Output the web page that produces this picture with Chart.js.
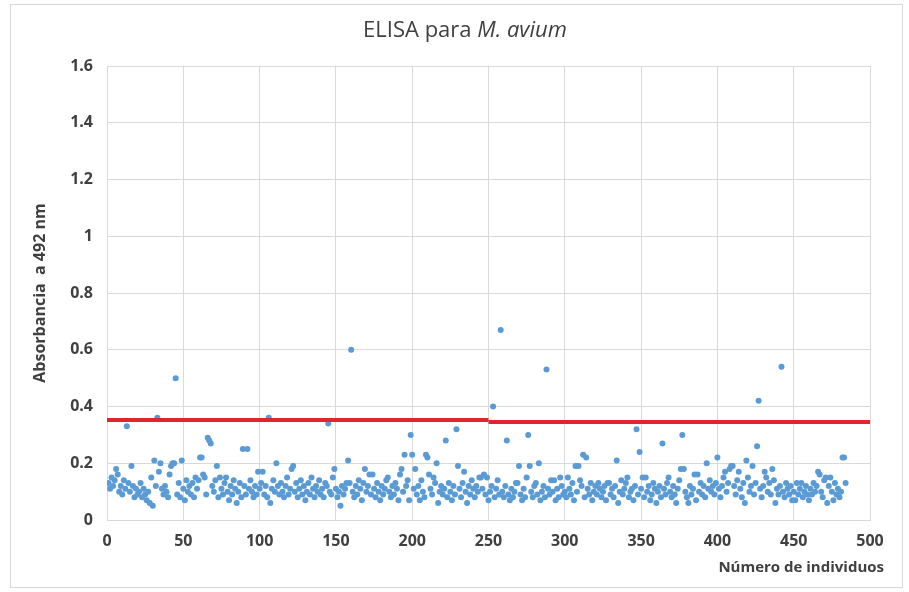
<!DOCTYPE html>
<html><head><meta charset="utf-8">
<script src="https://cdn.jsdelivr.net/npm/chart.js@4"></script>
<style>
html,body{margin:0;padding:0;background:#fff;}
#wrap{position:relative;width:909px;height:592px;overflow:hidden;}
#frame{position:absolute;left:10px;top:4px;width:893px;height:584px;border:1px solid #d9d9d9;box-sizing:border-box;}
canvas{position:absolute;left:0;top:0;}
</style></head><body>
<div id="wrap"><div id="frame"></div><canvas id="c" width="909" height="592"></canvas></div>
<script>
const titleMain = "ELISA para ";
const titleItalic = "M. avium";
const yTitle = "Absorbancia  a 492 nm";
const xTitle = "Número de individuos";

// Absorbance of individuals 1..484
const absorbance = [
0.13,0.11,0.15,0.12,0.14,0.18,0.16,0.10,0.12,0.09,0.14,0.11,0.33,0.13,0.10,0.19,0.12,0.08,0.11,0.09,
0.10,0.13,0.08,0.11,0.09,0.07,0.10,0.06,0.15,0.05,0.21,0.12,0.36,0.17,0.20,0.11,0.09,0.12,0.10,0.08,
0.16,0.19,0.20,0.20,0.50,0.09,0.13,0.08,0.21,0.11,0.07,0.14,0.10,0.12,0.09,0.13,0.08,0.15,0.11,0.14,
0.22,0.22,0.16,0.15,0.09,0.29,0.28,0.27,0.12,0.10,0.14,0.19,0.08,0.15,0.11,0.09,0.13,0.15,0.10,0.07,
0.12,0.09,0.14,0.11,0.06,0.10,0.13,0.08,0.25,0.12,0.09,0.25,0.11,0.14,0.10,0.08,0.12,0.09,0.17,0.11,
0.13,0.17,0.09,0.12,0.08,0.36,0.06,0.11,0.14,0.10,0.20,0.12,0.09,0.13,0.10,0.08,0.12,0.15,0.09,0.11,
0.18,0.19,0.10,0.13,0.08,0.11,0.14,0.09,0.12,0.07,0.10,0.13,0.09,0.15,0.11,0.08,0.12,0.10,0.14,0.09,
0.11,0.08,0.13,0.12,0.34,0.10,0.09,0.15,0.18,0.11,0.08,0.10,0.05,0.12,0.09,0.11,0.13,0.21,0.13,0.60,
0.10,0.08,0.12,0.09,0.14,0.11,0.07,0.13,0.18,0.10,0.12,0.16,0.09,0.16,0.11,0.08,0.13,0.10,0.07,0.12,
0.09,0.11,0.14,0.15,0.10,0.08,0.12,0.09,0.13,0.11,0.07,0.16,0.18,0.10,0.23,0.12,0.14,0.07,0.30,0.23,
0.11,0.18,0.09,0.12,0.07,0.14,0.10,0.08,0.23,0.22,0.16,0.11,0.09,0.15,0.13,0.20,0.06,0.10,0.12,0.09,
0.11,0.28,0.08,0.13,0.10,0.07,0.12,0.09,0.32,0.19,0.11,0.08,0.13,0.17,0.10,0.06,0.12,0.09,0.14,0.11,
0.08,0.12,0.10,0.15,0.15,0.11,0.16,0.09,0.15,0.07,0.10,0.12,0.40,0.08,0.11,0.14,0.09,0.67,0.10,0.08,
0.12,0.28,0.09,0.07,0.11,0.08,0.10,0.13,0.13,0.19,0.09,0.07,0.11,0.08,0.15,0.30,0.19,0.10,0.08,0.12,
0.13,0.09,0.20,0.07,0.10,0.12,0.08,0.53,0.11,0.09,0.14,0.10,0.14,0.07,0.11,0.08,0.15,0.12,0.09,0.10,
0.08,0.15,0.11,0.09,0.13,0.07,0.19,0.10,0.19,0.14,0.12,0.23,0.08,0.22,0.11,0.09,0.13,0.07,0.10,0.12,
0.09,0.13,0.11,0.08,0.10,0.12,0.07,0.13,0.13,0.09,0.11,0.08,0.12,0.21,0.06,0.10,0.14,0.09,0.11,0.13,
0.15,0.08,0.10,0.11,0.07,0.12,0.32,0.09,0.24,0.11,0.15,0.08,0.15,0.10,0.12,0.07,0.09,0.13,0.11,0.06,
0.10,0.12,0.08,0.27,0.11,0.09,0.13,0.15,0.10,0.08,0.12,0.09,0.06,0.11,0.14,0.18,0.30,0.18,0.10,0.08,
0.06,0.12,0.09,0.11,0.16,0.07,0.16,0.10,0.13,0.09,0.12,0.08,0.20,0.11,0.14,0.10,0.12,0.09,0.13,0.22,
0.11,0.08,0.12,0.15,0.17,0.10,0.13,0.18,0.19,0.19,0.12,0.09,0.14,0.17,0.11,0.08,0.13,0.06,0.21,0.15,
0.10,0.12,0.19,0.09,0.13,0.26,0.42,0.11,0.08,0.12,0.17,0.15,0.10,0.13,0.09,0.18,0.14,0.06,0.11,0.09,
0.12,0.54,0.10,0.08,0.13,0.11,0.09,0.12,0.07,0.10,0.07,0.13,0.09,0.11,0.13,0.08,0.10,0.12,0.09,0.07,
0.11,0.09,0.13,0.10,0.12,0.17,0.16,0.10,0.08,0.14,0.15,0.06,0.12,0.15,0.10,0.07,0.13,0.09,0.11,0.08,
0.10,0.22,0.22,0.13
];

// Cut-off lines (two plates)
const cutoffX1 = [0, 250];
const cutoffY1 = [0.352, 0.352];
const cutoffX2 = [250, 500];
const cutoffY2 = [0.345, 0.345];

const xMin = 0, xMax = 500, xStep = 50;
const yMin = 0, yMax = 1.6, yStep = 0.2;

const textColor = '#404040';
const gridColor = '#d9d9d9';
const FONT = '"Open Sans", "Liberation Sans", sans-serif';

const overlayText = {
  id: 'overlayText',
  afterDraw(chart) {
    const ctx = chart.ctx;
    ctx.save();
    ctx.fillStyle = textColor;
    ctx.textBaseline = 'middle';
    const f1 = '22px ' + FONT, f2 = 'italic 22px ' + FONT;
    ctx.font = f1; const w1 = ctx.measureText(titleMain).width;
    ctx.font = f2; const w2 = ctx.measureText(titleItalic).width;
    let x = 465 - (w1 + w2) / 2;
    ctx.textAlign = 'left';
    ctx.font = f1; ctx.fillText(titleMain, x, 31);
    ctx.font = f2; ctx.fillText(titleItalic, x + w1, 31);
    ctx.font = 'bold 15px ' + FONT;
    ctx.textAlign = 'right';
    ctx.fillText(xTitle, 884, 568);
    ctx.restore();
  }
};

new Chart(document.getElementById('c'), {
  type: 'scatter',
  data: {
    datasets: [
      { type: 'line', data: cutoffX1.map((x, i) => ({x, y: cutoffY1[i]})), borderColor: '#e0262c', borderWidth: 4, pointRadius: 0, fill: false },
      { type: 'line', data: cutoffX2.map((x, i) => ({x, y: cutoffY2[i]})), borderColor: '#e0262c', borderWidth: 4, pointRadius: 0, fill: false },
      { data: absorbance.map((v, i) => ({x: i + 1, y: v})), backgroundColor: '#5b9bd5', borderColor: '#5b9bd5', borderWidth: 0, pointRadius: 3 }
    ]
  },
  options: {
    responsive: false,
    animation: false,
    events: [],
    layout: { padding: { left: 31, right: 39, top: 66, bottom: 0 } },
    plugins: { legend: { display: false }, title: { display: false }, tooltip: { enabled: false } },
    scales: {
      x: {
        type: 'linear', min: xMin, max: xMax,
        ticks: { stepSize: xStep, color: textColor, font: { family: FONT, size: 16, weight: 'bold' }, padding: 12, maxRotation: 0 },
        grid: { color: gridColor, drawTicks: false },
        border: { color: gridColor },
        afterFit(s) { s.height = 72; }
      },
      y: {
        min: yMin, max: yMax,
        ticks: { stepSize: yStep, color: textColor, font: { family: FONT, size: 16, weight: 'bold' }, padding: 14,
          callback: (v) => String(Math.round(v * 10) / 10) },
        grid: { color: gridColor, drawTicks: false },
        border: { color: gridColor },
        title: { display: true, text: yTitle, color: textColor, font: { family: FONT, size: 16, weight: 'bold' }, padding: { top: 0, bottom: 0 } },
        afterFit(s) { s.width = 76; }
      }
    }
  },
  plugins: [overlayText]
});
</script>
</body></html>
